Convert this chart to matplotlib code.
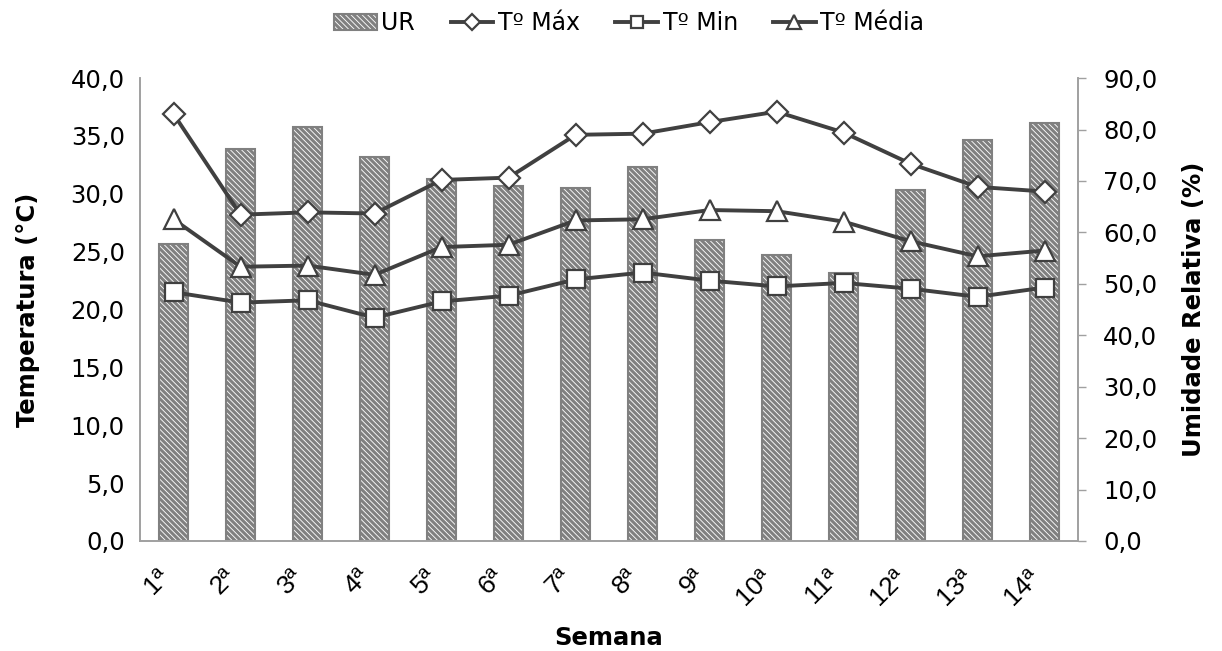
import numpy as np
import matplotlib.pyplot as plt

plt.rcParams['font.family'] = ['DejaVu Sans']
plt.rcParams['hatch.linewidth'] = 2.2
plt.rcParams['hatch.color'] = 'black'

# weekly data
semanas = ['1ª', '2ª', '3ª', '4ª', '5ª', '6ª', '7ª', '8ª', '9ª', '10ª', '11ª', '12ª', '13ª', '14ª']
ur = [57.7, 76.3, 80.5, 74.7, 70.4, 69.0, 68.6, 72.7, 58.5, 55.6, 52.1, 68.2, 78.0, 81.3]
t_max = [36.9, 28.2, 28.4, 28.3, 31.2, 31.4, 35.1, 35.2, 36.2, 37.1, 35.3, 32.6, 30.6, 30.2]
t_min = [21.5, 20.6, 20.8, 19.3, 20.7, 21.2, 22.6, 23.2, 22.5, 22.0, 22.3, 21.8, 21.1, 21.9]
t_media = [27.8, 23.7, 23.8, 23.0, 25.4, 25.6, 27.7, 27.8, 28.6, 28.5, 27.6, 25.9, 24.6, 25.1]

x = np.arange(len(semanas))
line_col = '#404040'
spine_col = '#a0a0a0'
fs = 17.5

fig = plt.figure(figsize=(12.22, 6.51), dpi=100)
ax = fig.add_axes([0.1146, 0.169, 0.7676, 0.711])
ax2 = ax.twinx()

# humidity bars on the right axis
bars = ax2.bar(x, ur, width=0.42, color='white', edgecolor='#808080',
               linewidth=1.5, hatch='\\\\\\\\\\\\', label='UR')

# temperature lines on the left axis, drawn above the bars
ax.set_zorder(ax2.get_zorder() + 1)
ax.patch.set_visible(False)
l1, = ax.plot(x, t_max, color=line_col, lw=2.8, marker='D', ms=11,
              mfc='white', mec=line_col, mew=1.6, label='Tº Máx')
l2, = ax.plot(x, t_min, color=line_col, lw=2.8, marker='s', ms=13,
              mfc='white', mec=line_col, mew=1.6, label='Tº Min')
l3, = ax.plot(x, t_media, color=line_col, lw=2.8, marker='^', ms=14,
              mfc='white', mec=line_col, mew=1.6, label='Tº Média')

ax.set_xlim(-0.5, len(semanas) - 0.5)
ax.set_ylim(0, 40)
ax2.set_ylim(0, 90)
ax.set_yticks(np.arange(0, 41, 5))
ax2.set_yticks(np.arange(0, 91, 10))
ax.set_yticklabels([f'{v:.1f}'.replace('.', ',') for v in np.arange(0, 41, 5)])
ax2.set_yticklabels([f'{v:.1f}'.replace('.', ',') for v in np.arange(0, 91, 10)])
ax.set_xticks(x)
ax.set_xticklabels(semanas, rotation=45, ha='right', va='top',
                   family='Liberation Sans', fontsize=19)

ax.tick_params(axis='x', length=0, pad=17)
ax.tick_params(axis='y', length=0, pad=11, labelsize=fs)
ax2.tick_params(axis='y', length=6, width=1, color=spine_col, pad=12, labelsize=fs)

for a in (ax, ax2):
    a.spines['top'].set_visible(False)
    for s in ('left', 'right', 'bottom'):
        a.spines[s].set_color(spine_col)
        a.spines[s].set_linewidth(1.2)

ax.set_ylabel('Temperatura (°C)', fontsize=fs, fontweight='bold', labelpad=22)
ax2.set_ylabel('Umidade Relativa (%)', fontsize=fs, fontweight='bold', labelpad=18)
ax.set_xlabel('Semana', fontsize=fs, fontweight='bold', labelpad=12)

fig.legend([bars, l1, l2, l3], ['UR', 'Tº Máx', 'Tº Min', 'Tº Média'],
           loc='upper center', bbox_to_anchor=(0.515, 1.015), ncol=4,
           frameon=False, fontsize=17, handlelength=1.8, handletextpad=0.2,
           columnspacing=1.5, markerscale=0.7)

fig.savefig('out.png', dpi=100)
